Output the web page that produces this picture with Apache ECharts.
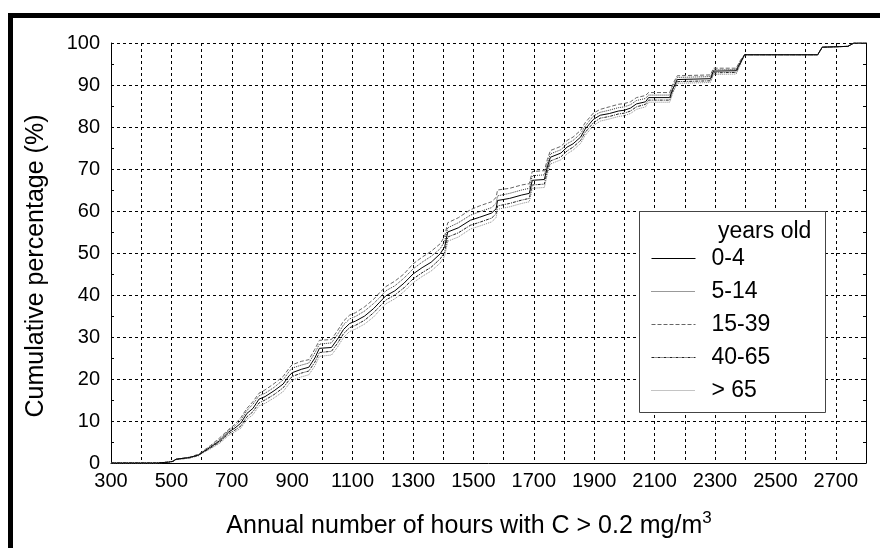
<!DOCTYPE html>
<html>
<head>
<meta charset="utf-8">
<script src="https://cdn.jsdelivr.net/npm/echarts@6/dist/echarts.min.js"></script>
<style>
html,body{margin:0;padding:0;background:#fff;}
#chart{width:880px;height:548px;}
</style>
</head>
<body>
<div id="chart"></div>
<script>
// Shared x values (annual hours with C > 0.2 mg/m3)
const hours = [300,450,490,505,515, 560,590,600,630,660, 690,710,730,750,770, 790,810,840,870,890,
  900,930,955,975,990, 1030,1050,1070,1090,1110, 1140,1170,1190,1210,1240, 1270,1300,1330,1360,1390,
  1405,1415,1450,1490,1520, 1560,1575,1580,1620,1660, 1685,1695,1735,1745,1755, 1790,1810,1830,1855,1870,
  1897,1920,1950,1980,2000, 2020,2040,2070,2080,2150, 2160,2175,2230,2285,2295, 2370,2385,2398,2640,2655,
  2740,2760,2800];

const age0_4 = [0,0,0.2,0.4,0.9, 1.3,1.9,2.4,3.8,5.3, 7.4,8.3,9.5,11.8,13.0, 15.2,15.8,17.2,18.8,20.8,
  21.5,22.3,22.8,25.0,27.3, 27.5,29.5,31.8,33.2,33.8, 35.0,36.8,38.3,39.8,41.0, 42.8,45.0,46.5,47.8,49.8,
  51.5,55.0,56.0,57.8,58.5, 59.5,60.5,62.5,63.0,63.8, 64.2,67.3,67.5,70.5,72.8, 73.8,75.2,76.0,77.6,79.5,
  81.8,82.8,83.2,83.8,84.0, 84.5,85.5,86.0,87.0,87.0, 89.0,91.3,91.4,91.5,93.3, 93.4,95.5,97.2,97.2,99.0,
  99.2,100,100];

const age5_14 = [0,0,0.2,0.4,0.9, 1.3,2.0,2.5,4.0,5.6, 7.8,8.8,10.2,12.5,14.0, 16.0,16.6,18.0,19.8,21.8,
  22.6,23.3,23.8,26.2,28.3, 28.6,30.6,32.9,34.3,34.9, 36.2,38.0,39.4,41.0,42.2, 44.0,46.2,47.8,49.2,51.0,
  52.8,56.0,57.2,59.0,59.8, 60.8,61.8,63.6,64.2,65.0, 65.4,68.4,68.6,71.4,73.6, 74.6,76.0,76.8,78.4,80.2,
  82.6,83.5,84.0,84.6,84.8, 85.3,86.3,86.8,87.6,87.6, 89.6,91.8,91.9,92.0,93.6, 93.7,95.8,97.2,97.2,99.0,
  99.2,100,100];

const age15_39 = [0,0,0.2,0.4,0.9, 1.4,2.1,2.6,4.2,6.0, 8.0,9.2,10.8,13.0,14.6, 16.6,17.4,18.9,20.6,22.6,
  23.4,24.2,24.6,27.1,29.2, 29.4,31.5,33.8,35.2,35.8, 37.2,39.0,40.6,42.0,43.3, 45.0,47.4,49.0,50.4,52.2,
  54.0,57.2,58.4,60.3,61.2, 62.2,63.2,65.0,65.4,66.2, 66.5,69.4,69.6,72.3,74.4, 75.4,76.8,77.6,79.2,81.0,
  83.3,84.2,84.8,85.4,85.6, 86.0,87.0,87.5,88.2,88.2, 90.2,92.2,92.3,92.4,94.0, 94.0,96.0,97.2,97.2,99.0,
  99.2,100,100];

const age40_65 = [0,0,0.2,0.4,0.8, 1.2,1.8,2.3,3.6,5.0, 7.0,7.8,8.8,11.0,12.2, 14.3,15.0,16.3,17.9,19.8,
  20.6,21.4,21.9,24.0,26.3, 26.6,28.5,30.8,32.2,32.8, 34.0,35.8,37.3,38.8,40.0, 41.7,43.8,45.3,46.6,48.6,
  50.2,53.8,54.8,56.6,57.3, 58.3,59.3,61.2,61.8,62.6, 63.0,66.2,66.4,69.5,71.9, 72.9,74.3,75.2,76.8,78.7,
  81.0,82.1,82.5,83.1,83.3, 83.8,84.8,85.4,86.4,86.4, 88.5,90.8,90.9,91.0,92.9, 93.0,95.2,97.2,97.2,99.0,
  99.2,100,100];

const age65plus = [0,0,0.2,0.4,0.8, 1.2,1.7,2.2,3.4,4.7, 6.6,7.4,8.3,10.4,11.5, 13.6,14.2,15.5,17.0,18.9,
  19.7,20.5,21.0,23.1,25.4, 25.7,27.6,29.9,31.3,31.9, 33.1,34.8,36.4,37.9,39.1, 40.8,42.9,44.4,45.7,47.6,
  49.3,52.8,53.8,55.7,56.4, 57.4,58.4,60.4,61.0,61.8, 62.2,65.4,65.6,68.8,71.2, 72.2,73.6,74.5,76.1,78.0,
  80.3,81.4,81.9,82.5,82.7, 83.2,84.2,84.8,85.9,85.9, 88.0,90.4,90.5,90.6,92.5, 92.6,94.9,97.2,97.2,99.0,
  99.2,100,100];

const seriesNames = ['0-4','5-14','15-39','40-65','> 65'];
const xTickLabels = [300,500,700,900,1100,1300,1500,1700,1900,2100,2300,2500,2700];
const yTickLabels = [0,10,20,30,40,50,60,70,80,90,100];

const FONT = 'Liberation Sans, Arial, Helvetica, sans-serif';
const chart = echarts.init(document.getElementById('chart'), null, {renderer:'canvas'});

function pairs(ys){ return hours.map((h,i)=>[h, ys[i]]); }

const styles = [
  {color:'#000', type:'solid', width:1},
  {color:'#333', type:[1,1], width:1},
  {color:'#666', type:[4,2], width:1},
  {color:'#222', type:[3,1,1,1], width:1},
  {color:'#888', type:[1,1], width:1}
];
const allData = [age0_4, age5_14, age15_39, age40_65, age65plus];

const option = {
  animation:false,
  backgroundColor:'#fff',
  textStyle:{fontFamily:FONT},
  grid:{left:111, right:14, top:43, bottom:85, containLabel:false},
  xAxis:{
    type:'value', min:300, max:2800, interval:100,
    name:'{a|Annual number of hours with C > 0.2 mg/m}{sup|3}',
    nameLocation:'middle', nameGap:47,
    nameTextStyle:{color:'#000', fontFamily:FONT, padding:[0,39,0,0],
      rich:{
        a:{fontSize:25, lineHeight:29, verticalAlign:'bottom', color:'#000', fontFamily:FONT},
        sup:{fontSize:17, lineHeight:17, verticalAlign:'top', color:'#000', fontFamily:FONT}
      }},
    axisLine:{show:true, lineStyle:{color:'#000', width:1}},
    axisTick:{show:false},
    axisLabel:{fontSize:20, color:'#000', margin:8, fontFamily:FONT, hideOverlap:false,
      formatter:v=> xTickLabels.indexOf(v)>=0 ? String(v) : ''},
    splitLine:{show:true, lineStyle:{color:'#000', type:[3,3], width:1}}
  },
  yAxis:[{
    type:'value', min:0, max:100, interval:10,
    name:'Cumulative percentage (%)',
    nameLocation:'middle', nameGap:62, nameRotate:90,
    nameTextStyle:{fontSize:25, color:'#000', fontFamily:FONT, padding:[0,26,0,0]},
    axisLine:{show:true, lineStyle:{color:'#000', width:1}},
    axisTick:{show:true, inside:true, length:3, lineStyle:{color:'#000'}},
    minorTick:{show:true, splitNumber:2, length:3, lineStyle:{color:'#000'}},
    axisLabel:{fontSize:20, color:'#000', margin:11, fontFamily:FONT,
      formatter:v=> yTickLabels.indexOf(v)>=0 ? String(v) : ''},
    splitLine:{show:true, lineStyle:{color:'#000', type:[3,3], width:1}}
  },{
    type:'value', min:0, max:100, interval:10, position:'right',
    axisLine:{show:true, onZero:false, lineStyle:{color:'#000', width:1}},
    axisTick:{show:true, inside:true, length:3, lineStyle:{color:'#000'}},
    minorTick:{show:true, splitNumber:2, length:3, lineStyle:{color:'#000'}},
    axisLabel:{show:false},
    splitLine:{show:false}
  }],
  legend:{
    orient:'vertical', left:651, top:247, padding:0, z:20,
    itemWidth:44, itemHeight:13, itemGap:10,
    itemStyle:{opacity:0, borderWidth:0},
    lineStyle:{width:1},
    textStyle:{fontSize:23, color:'#000', fontFamily:FONT, lineHeight:23, padding:[0,0,0,11]},
    data:seriesNames
  },
  graphic:[
    {type:'rect', z:15, shape:{x:639.5, y:211.5, width:186, height:201},
     style:{fill:'#fff', stroke:'#444', lineWidth:1}},
    {type:'text', z:21, left:718, top:220,
     style:{text:'years old', fontSize:23, fill:'#000', fontFamily:FONT}},
    {type:'rect', z:30, shape:{x:8, y:13, width:5, height:535}, style:{fill:'#000'}},
    {type:'rect', z:30, shape:{x:8, y:13, width:872, height:5}, style:{fill:'#000'}}
  ],
  series: seriesNames.map((n,i)=>({
    name:n, type:'line', data:pairs(allData[i]), showSymbol:false, symbol:'none',
    lineStyle:styles[i], itemStyle:{color:styles[i].color}, z:3 + (i===0?1:0)
  }))
};
chart.setOption(option);
</script>
</body>
</html>
